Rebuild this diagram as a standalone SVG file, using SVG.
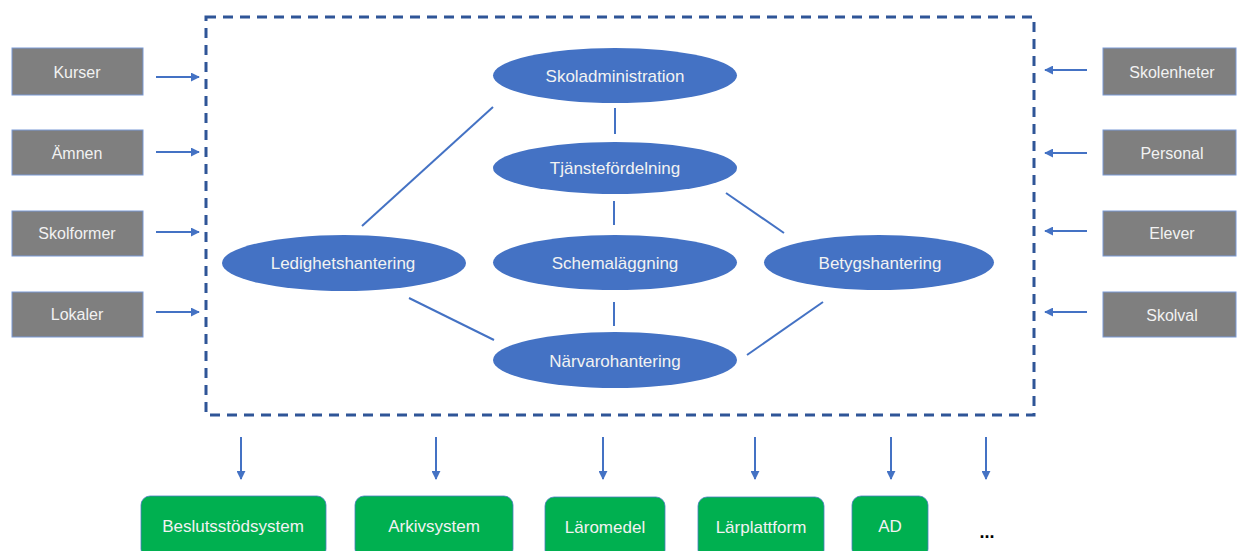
<svg xmlns="http://www.w3.org/2000/svg" width="1239" height="551" viewBox="0 0 1239 551">
<defs>
<marker id="ah" viewBox="0 0 10 10" refX="9" refY="5" markerWidth="4.5" markerHeight="4.5" orient="auto" markerUnits="strokeWidth">
<path d="M0,0 L10,5 L0,10 z" fill="#4472C4"/>
</marker>
<style>
text{font-family:"Liberation Sans",Arial,sans-serif;font-size:17px;fill:#F2F2F2;text-anchor:middle;dominant-baseline:central}
.g{font-size:16px}
.gray{fill:#7F7F7F;stroke:#7A9AD6;stroke-width:1}
.green{fill:#00B050;stroke:#4A7FC0;stroke-width:0.8}
.ell{fill:#4472C4}
.link{stroke:#4472C4;stroke-width:2;fill:none}
.arr{stroke:#4472C4;stroke-width:2;fill:none;marker-end:url(#ah)}
.box{fill:none;stroke:#2F5597;stroke-width:3;stroke-dasharray:10 7}
</style>
</defs>
<rect width="1239" height="551" fill="#FFFFFF"/>
<rect id="system-boundary" class="box" x="206" y="17" width="828" height="398"/>

<g id="connectors">
<path class="arr" d="M156,77 H199"/>
<path class="arr" d="M156,152 H199"/>
<path class="arr" d="M156,232 H199"/>
<path class="arr" d="M156,312 H199"/>
<path class="arr" d="M1087,70 H1045"/>
<path class="arr" d="M1087,153 H1045"/>
<path class="arr" d="M1087,231 H1045"/>
<path class="arr" d="M1087,312 H1045"/>
<path class="arr" d="M241,437 V479"/>
<path class="arr" d="M436,437 V479"/>
<path class="arr" d="M603,437 V479"/>
<path class="arr" d="M755,437 V479"/>
<path class="arr" d="M891,437 V479"/>
<path class="arr" d="M986,437 V479"/>
<path class="link" d="M615,108 V134"/>
<path class="link" d="M614,201 V225"/>
<path class="link" d="M614,302 V326"/>
<path class="link" d="M493,107 L362,226"/>
<path class="link" d="M726,193 L784,233"/>
<path class="link" d="M409,298 L494,340"/>
<path class="link" d="M747,355 L823,302"/>
</g>

<g id="kurser"><rect class="gray" x="12" y="48" width="131" height="47"/><text class="g" x="77" y="72">Kurser</text></g>
<g id="amnen"><rect class="gray" x="12" y="130" width="131" height="45"/><text class="g" x="77" y="153">Ämnen</text></g>
<g id="skolformer"><rect class="gray" x="12" y="211" width="131" height="45"/><text class="g" x="77" y="233">Skolformer</text></g>
<g id="lokaler"><rect class="gray" x="12" y="292" width="131" height="45"/><text class="g" x="77" y="314">Lokaler</text></g>

<g id="skolenheter"><rect class="gray" x="1103" y="48" width="133" height="47"/><text class="g" x="1172" y="72">Skolenheter</text></g>
<g id="personal"><rect class="gray" x="1103" y="130" width="133" height="45"/><text class="g" x="1172" y="153">Personal</text></g>
<g id="elever"><rect class="gray" x="1103" y="211" width="133" height="45"/><text class="g" x="1172" y="233">Elever</text></g>
<g id="skolval"><rect class="gray" x="1103" y="292" width="133" height="45"/><text class="g" x="1172" y="315">Skolval</text></g>

<g id="skoladministration"><ellipse class="ell" cx="615" cy="75.5" rx="122" ry="27.5"/><text x="615" y="76">Skoladministration</text></g>
<g id="tjanstefordelning"><ellipse class="ell" cx="615" cy="168" rx="122" ry="26"/><text x="615" y="168">Tjänstefördelning</text></g>
<g id="schemalaggning"><ellipse class="ell" cx="615" cy="262.5" rx="122" ry="27.5"/><text x="615" y="263">Schemaläggning</text></g>
<g id="narvarohantering"><ellipse class="ell" cx="615" cy="360" rx="122" ry="28"/><text x="615" y="361">Närvarohantering</text></g>
<g id="ledighetshantering"><ellipse class="ell" cx="344" cy="263" rx="122" ry="28"/><text x="343" y="263">Ledighetshantering</text></g>
<g id="betygshantering"><ellipse class="ell" cx="879" cy="262.5" rx="115" ry="27.5"/><text x="880" y="263">Betygshantering</text></g>

<g id="beslutsstodsystem"><rect class="green" x="141" y="496" width="185" height="62" rx="9"/><text x="233" y="526">Beslutsstödsystem</text></g>
<g id="arkivsystem"><rect class="green" x="355" y="496" width="158" height="62" rx="9"/><text x="434" y="526">Arkivsystem</text></g>
<g id="laromedel"><rect class="green" x="545" y="497" width="120" height="62" rx="9"/><text x="605" y="527">Läromedel</text></g>
<g id="larplattform"><rect class="green" x="698" y="497" width="126" height="62" rx="9"/><text x="761" y="527">Lärplattform</text></g>
<g id="ad"><rect class="green" x="852" y="496" width="76" height="62" rx="9"/><text x="890" y="526">AD</text></g>
<g id="more"><text x="987" y="532" style="fill:#000000;font-size:18px;font-weight:bold">...</text></g>
</svg>
